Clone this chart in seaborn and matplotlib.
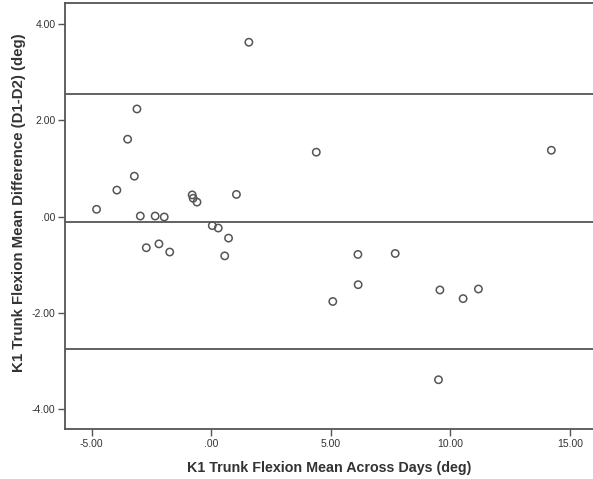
import matplotlib
matplotlib.use("Agg")
import matplotlib.pyplot as plt
import seaborn as sns
import pandas as pd

mean_across_days = [1.57, -3.11, -3.50, -3.22, -3.95, -4.80, -2.97, -2.35, -1.97,
                    -0.80, -0.76, -0.60, 1.05, 0.04, 0.29, 0.72, 4.39, 14.22,
                    -2.72, -2.19, -1.74, 0.56, 6.13, 7.69, 6.14, 5.08, 9.56,
                    10.53, 11.17, 9.50]
mean_difference = [3.63, 2.24, 1.61, 0.84, 0.55, 0.15, 0.01, 0.01, -0.01,
                   0.45, 0.38, 0.30, 0.46, -0.19, -0.24, -0.45, 1.34, 1.38,
                   -0.65, -0.57, -0.74, -0.82, -0.79, -0.77, -1.42, -1.77, -1.53,
                   -1.71, -1.51, -3.40]
ref_lines = [2.556, -0.104, -2.756]
x_ticks = [-5, 0, 5, 10, 15]
x_tick_labels = ["-5.00", ".00", "5.00", "10.00", "15.00"]
y_ticks = [4, 2, 0, -2, -4]
y_tick_labels = ["4.00", "2.00", ".00", "-2.00", "-4.00"]

df = pd.DataFrame({"x": mean_across_days, "y": mean_difference})

sns.set_style("white")
plt.rcParams["font.family"] = ["Liberation Sans", "DejaVu Sans"]

fig = plt.figure(figsize=(5.93, 4.79), dpi=100)
ax = fig.add_axes([0.110, 0.104, 0.8895, 0.890])

for v in ref_lines:
    ax.axhline(v, color="#555555", lw=1.3, zorder=1)

sns.scatterplot(data=df, x="x", y="y", ax=ax, marker="o", s=28,
                facecolors="none", edgecolor="#555555", linewidth=1.1, zorder=3)

ax.set_xlim(-6.11, 15.95)
ax.set_ylim(-4.43, 4.45)
ax.set_xticks(x_ticks)
ax.set_xticklabels(x_tick_labels)
ax.set_yticks(y_ticks)
ax.set_yticklabels(y_tick_labels)
ax.tick_params(axis="both", direction="out", length=5, width=1, color="#555555",
               labelsize=7.5, labelcolor="#333333", bottom=True, left=True, pad=2)

for side in ["left", "bottom", "top"]:
    ax.spines[side].set_color("#555555")
    ax.spines[side].set_linewidth(1.3)
ax.spines["right"].set_visible(False)

ax.set_xlabel("K1 Trunk Flexion Mean Across Days (deg)", fontsize=10.3,
              fontweight="bold", color="#333333", labelpad=9)
ax.set_ylabel("K1 Trunk Flexion Mean Difference (D1-D2) (deg)", fontsize=10.8,
              fontweight="bold", color="#333333")
ax.yaxis.set_label_coords(-0.074, 0.531)

fig.savefig("out.png", dpi=100)
